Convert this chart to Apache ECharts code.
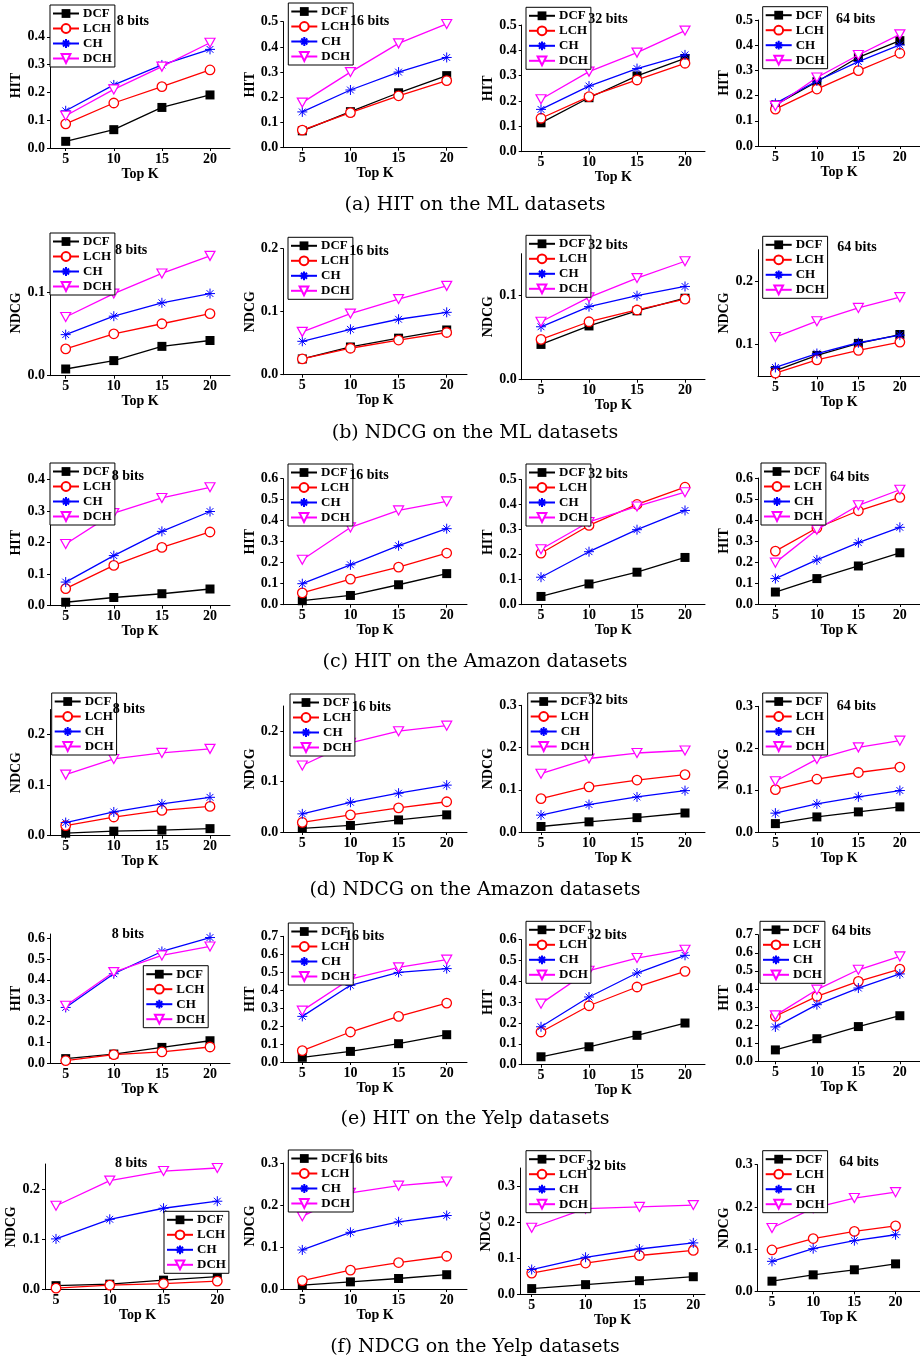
<!DOCTYPE html>
<html><head><meta charset="utf-8">
<script src="https://cdn.jsdelivr.net/npm/echarts@6/dist/echarts.min.js"></script>
<style>html,body{margin:0;padding:0;background:#fff}#c{width:920px;height:1360px}</style>
</head><body><div id="c"></div>
<script>
// ---------------- DATA ----------------
const topK = [5, 10, 15, 20];
const methods = ['DCF', 'LCH', 'CH', 'DCH'];
const bitLabels = ['8 bits', '16 bits', '32 bits', '64 bits'];
const metricNames = ['HIT', 'NDCG', 'HIT', 'NDCG', 'HIT', 'NDCG'];
const captions = ['(a) HIT on the ML datasets', '(b) NDCG on the ML datasets',
  '(c) HIT on the Amazon datasets', '(d) NDCG on the Amazon datasets',
  '(e) HIT on the Yelp datasets', '(f) NDCG on the Yelp datasets'];

// each panel: rows = DCF, LCH, CH, DCH ; columns = Top K 5,10,15,20
const hitML8 = [[0.024,0.066,0.146,0.191],[0.087,0.162,0.221,0.281],[0.134,0.227,0.299,0.355],[0.116,0.211,0.293,0.379]];
const hitML16 = [[0.067,0.143,0.218,0.286],[0.070,0.139,0.206,0.266],[0.142,0.229,0.300,0.358],[0.179,0.300,0.414,0.491]];
const hitML32 = [[0.114,0.213,0.299,0.368],[0.132,0.217,0.283,0.349],[0.167,0.259,0.328,0.382],[0.207,0.316,0.391,0.478]];
const hitML64 = [[0.163,0.255,0.352,0.418],[0.146,0.226,0.299,0.368],[0.169,0.258,0.335,0.401],[0.159,0.272,0.361,0.443]];
const ndcgML8 = [[0.008,0.018,0.035,0.042],[0.032,0.050,0.062,0.074],[0.049,0.071,0.087,0.098],[0.070,0.098,0.122,0.143]];
const ndcgML16 = [[0.025,0.044,0.058,0.071],[0.025,0.042,0.055,0.067],[0.053,0.072,0.088,0.099],[0.068,0.097,0.120,0.141]];
const ndcgML32 = [[0.042,0.064,0.082,0.097],[0.048,0.069,0.083,0.096],[0.063,0.087,0.100,0.111],[0.069,0.098,0.121,0.141]];
const ndcgML64 = [[0.059,0.083,0.102,0.116],[0.055,0.076,0.091,0.104],[0.064,0.086,0.103,0.115],[0.112,0.137,0.158,0.175]];
const hitAmz8 = [[0.011,0.026,0.038,0.053],[0.054,0.128,0.185,0.234],[0.075,0.159,0.236,0.299],[0.196,0.294,0.342,0.376]];
const hitAmz16 = [[0.019,0.044,0.095,0.148],[0.056,0.122,0.179,0.246],[0.100,0.190,0.281,0.362],[0.214,0.368,0.449,0.492]];
const hitAmz32 = [[0.033,0.083,0.130,0.189],[0.206,0.317,0.401,0.470],[0.110,0.212,0.300,0.377],[0.222,0.331,0.393,0.450]];
const hitAmz64 = [[0.057,0.121,0.181,0.244],[0.252,0.362,0.444,0.508],[0.121,0.210,0.292,0.365],[0.197,0.354,0.470,0.544]];
const ndcgAmz8 = [[0.005,0.009,0.011,0.014],[0.020,0.037,0.050,0.058],[0.026,0.047,0.063,0.076],[0.121,0.152,0.164,0.172]];
const ndcgAmz16 = [[0.007,0.013,0.024,0.034],[0.019,0.034,0.048,0.060],[0.036,0.059,0.077,0.093],[0.132,0.177,0.200,0.211]];
const ndcgAmz32 = [[0.013,0.024,0.034,0.045],[0.079,0.107,0.123,0.136],[0.040,0.065,0.083,0.098],[0.138,0.174,0.187,0.193]];
const ndcgAmz64 = [[0.020,0.036,0.048,0.060],[0.101,0.126,0.142,0.155],[0.045,0.067,0.084,0.099],[0.121,0.174,0.202,0.218]];
const hitYelp8 = [[0.021,0.043,0.075,0.107],[0.011,0.040,0.053,0.077],[0.267,0.429,0.536,0.603],[0.275,0.437,0.517,0.560]];
const hitYelp16 = [[0.026,0.059,0.102,0.152],[0.063,0.167,0.254,0.328],[0.254,0.427,0.499,0.520],[0.286,0.462,0.527,0.570]];
const hitYelp32 = [[0.038,0.086,0.141,0.200],[0.157,0.283,0.373,0.448],[0.182,0.325,0.440,0.525],[0.293,0.451,0.512,0.552]];
const hitYelp64 = [[0.063,0.125,0.192,0.252],[0.249,0.359,0.442,0.510],[0.190,0.313,0.405,0.483],[0.254,0.396,0.506,0.580]];
const ndcgYelp8 = [[0.008,0.011,0.019,0.026],[0.003,0.009,0.012,0.017],[0.101,0.140,0.162,0.176],[0.167,0.217,0.236,0.242]];
const ndcgYelp16 = [[0.009,0.017,0.025,0.034],[0.020,0.045,0.063,0.078],[0.093,0.135,0.160,0.175],[0.173,0.229,0.246,0.256]];
const ndcgYelp32 = [[0.015,0.026,0.037,0.048],[0.058,0.086,0.107,0.121],[0.068,0.102,0.125,0.142],[0.184,0.237,0.242,0.247]];
const ndcgYelp64 = [[0.024,0.039,0.051,0.065],[0.098,0.125,0.142,0.155],[0.071,0.101,0.120,0.134],[0.150,0.197,0.221,0.235]];

const panels = [hitML8, hitML16, hitML32, hitML64, ndcgML8, ndcgML16, ndcgML32, ndcgML64,
  hitAmz8, hitAmz16, hitAmz32, hitAmz64, ndcgAmz8, ndcgAmz16, ndcgAmz32, ndcgAmz64,
  hitYelp8, hitYelp16, hitYelp32, hitYelp64, ndcgYelp8, ndcgYelp16, ndcgYelp32, ndcgYelp64];

// y-axis ranges and tick labels per panel
const yRange = [[0,0.45],[0,0.5],[0,0.5],[0,0.5],
  [0,0.15],[0,0.2],[0,0.15],[0.05,0.25],
  [0,0.4],[0,0.6],[0,0.5],[0,0.6],
  [0,0.25],[0,0.25],[0,0.3],[0,0.3],
  [0,0.62],[0,0.7],[0,0.6],[0,0.7],
  [0,0.25],[0,0.3],[0,0.35],[0,0.3]];
const T4 = [0,0.1,0.2,0.3,0.4], T5 = [0,0.1,0.2,0.3,0.4,0.5], T6 = [0,0.1,0.2,0.3,0.4,0.5,0.6], T7 = [0,0.1,0.2,0.3,0.4,0.5,0.6,0.7];
const T1 = [0,0.1], T2 = [0,0.1,0.2], T3 = [0,0.1,0.2,0.3];
const yTicks = [T4,T5,T5,T5, T1,T2,T1,[0.1,0.2], T4,T6,T5,T6, T2,T2,T3,T3, T6,T7,T6,T7, T2,T3,T3,T3];

// ---------------- LAYOUT ----------------
// [y-axis x, x of tick 5, x of tick 20, right end]
const colX = [[50,65.7,210,230],[283.3,302.3,446.7,467],[521.7,541,685,705],[758,777,913,935]];
const colXf = [[45,56,217.3,230],[283.3,302.3,446.7,467],[520,531.7,693.3,705],[757.7,773.3,908.3,935]];
// [y pixel of bottom, y pixel of top]
const panelY = [[148,23],[147.7,21.7],[151.7,25],[146,20],
  [375.7,250],[374.7,248.7],[379.7,253.7],[376.3,249.7],
  [605.7,479.7],[604.7,478.7],[604.7,479.7],[604,478],
  [835.7,709.5],[832,706],[832,705.3],[832,706.3],
  [1063,934],[1062,936.3],[1064.7,939.7],[1061.3,934.7],
  [1289.7,1164],[1289,1163],[1294,1168],[1291.3,1164.7]];
const legendPos = [[50,5],[288.3,3],[526,7.3],[762.7,6.7],
  [50,233],[288,237.3],[526,235.3],[762.7,236.3],
  [50,463],[288,464],[526,464],[761,463],
  [51.7,693],[290,694],[527.7,693],[762.7,693],
  [143.3,965.7],[288.3,923],[526,921.3],[760,921.3],
  [164,1211.3],[288.3,1150],[526,1150.7],[762.7,1150.7]];
const titlePos = [[116.7,21.7],[350,21.7],[588.3,19.3],[836,19],
  [115,250.7],[349.3,251.3],[588.3,245.3],[837.3,247.3],
  [111.7,476.3],[349.3,475.3],[588.3,474],[830,477.3],
  [112.7,709.7],[351.7,707.3],[588.3,700.7],[836.7,706.3],
  [111.7,934],[345,936.3],[587.3,935.3],[831.7,931.3],
  [115,1163],[348.3,1159.7],[586.7,1166.3],[839.3,1162]];
const captionY = [205, 433, 662, 890, 1119, 1347];
const yNameGap = [24, 21, 21, 19];

const FONT = 'Liberation Serif';
const colors = ['#000000', '#ff0000', '#0000ff', '#ff00ff'];
const symbols = ['rect', 'circle', 'path://M0 5L10 5M5 0L5 10M1.6 1.6L8.4 8.4M1.6 8.4L8.4 1.6', 'path://M0 0L10 0L5 8.7Z'];
const symSizes = [9, 9.5, 10, [10, 9]];
const fills = ['#000000', '#ffffff', '#0000ff', '#ffffff'];
const borders = [0, 1.3, 1, 1.2];

const grid = [], xAxis = [], yAxis = [], series = [], legend = [], graphic = [];
for (let r = 0; r < 6; r++) {
  for (let c = 0; c < 4; c++) {
    const i = r * 4 + c;
    const [axL, x5, x20, axR] = (r === 5 ? colXf : colX)[c];
    const u = (x20 - x5) / 15;
    const xmin = 5 - (x5 - axL) / u, xmax = 20 + (axR - x20) / u;
    const [yB, yT] = panelY[i];
    grid.push({left: axL, top: yT, width: axR - axL, height: yB - yT, containLabel: false});
    xAxis.push({
      type: 'value', gridIndex: i, min: xmin, max: xmax,
      name: 'Top K', nameLocation: 'middle', nameGap: 14,
      nameTextStyle: {fontFamily: FONT, fontWeight: 'bold', fontSize: 14, color: '#000'},
      axisLine: {onZero: false, lineStyle: {color: '#000', width: 1}},
      axisTick: {customValues: topK, length: 3, lineStyle: {color: '#000'}},
      axisLabel: {customValues: topK, margin: 4, fontFamily: FONT, fontWeight: 'bold', fontSize: 14, color: '#000'},
      splitLine: {show: false}
    });
    const gapY = (r === 5 && c === 0) ? 19 : yNameGap[c];
    yAxis.push({
      type: 'value', gridIndex: i, min: yRange[i][0], max: yRange[i][1],
      name: metricNames[r], nameLocation: 'middle', nameGap: gapY, nameRotate: 90,
      nameTextStyle: {fontFamily: FONT, fontWeight: 'bold', fontSize: 14, color: '#000'},
      axisLine: {show: true, onZero: false, lineStyle: {color: '#000', width: 1}},
      axisTick: {show: true, customValues: yTicks[i], length: 3, lineStyle: {color: '#000'}},
      axisLabel: {customValues: yTicks[i], margin: 5, formatter: v => v.toFixed(1),
        fontFamily: FONT, fontWeight: 'bold', fontSize: 14, color: '#000'},
      splitLine: {show: false}
    });
    methods.forEach((m, k) => {
      series.push({
        type: 'line', name: m, xAxisIndex: i, yAxisIndex: i,
        data: topK.map((x, j) => [x, panels[i][k][j]]),
        symbol: symbols[k], symbolSize: symSizes[k], showAllSymbol: true,
        lineStyle: {color: colors[k], width: 1.3},
        itemStyle: {color: fills[k], borderColor: colors[k], borderWidth: borders[k]},
        emphasis: {disabled: true}, z: 2 + k
      });
    });
    legend.push({
      left: legendPos[i][0], top: legendPos[i][1], orient: 'vertical', data: methods,
      itemWidth: 26, itemHeight: 11, itemGap: 2, padding: [2, 3, 2, 2],
      borderColor: '#000', borderWidth: 1, backgroundColor: '#fff', selectedMode: false,
      textStyle: {fontFamily: FONT, fontWeight: 'bold', fontSize: 13, color: '#000', padding: [0,0,0,-1]},
      z: 10
    });
    graphic.push({
      type: 'text', x: titlePos[i][0], y: titlePos[i][1], z: 20,
      style: {text: bitLabels[c], font: 'bold 14px "' + FONT + '"', fill: '#000', align: 'left', verticalAlign: 'middle'}
    });
  }
  graphic.push({
    type: 'text', x: 475, y: captionY[r], z: 20,
    style: {text: captions[r], font: '19px "DejaVu Serif"', fill: '#000', align: 'center', verticalAlign: 'middle'}
  });
}

const chart = echarts.init(document.getElementById('c'), null, {renderer: 'canvas'});
chart.setOption({animation: false, backgroundColor: '#fff', grid, xAxis, yAxis, series, legend, graphic});
</script></body></html>
